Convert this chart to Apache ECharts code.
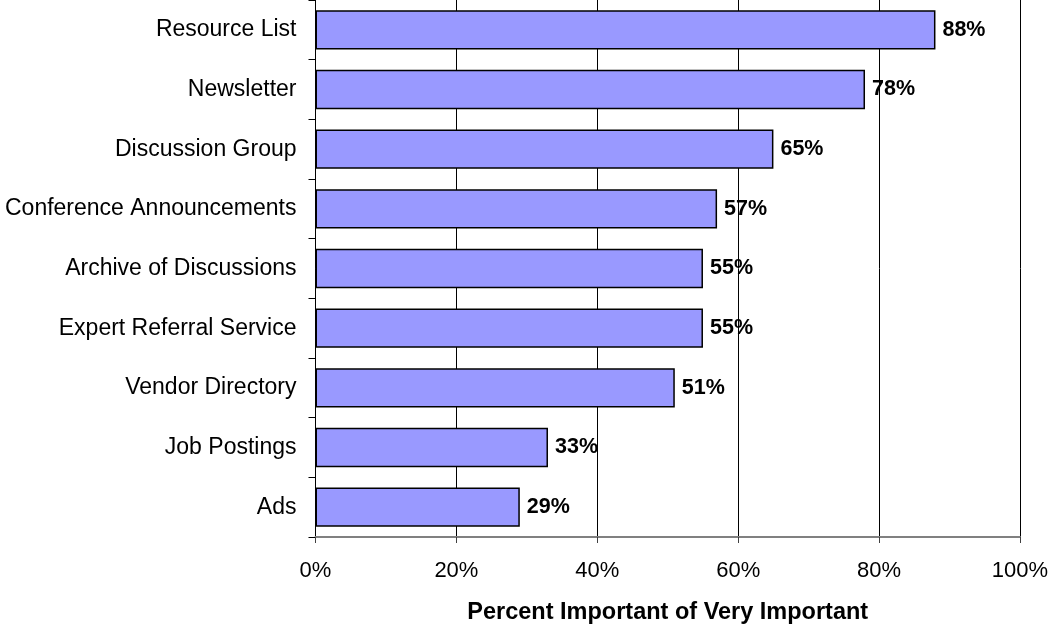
<!DOCTYPE html>
<html>
<head>
<meta charset="utf-8">
<script src="https://cdn.jsdelivr.net/npm/echarts@6/dist/echarts.min.js"></script>
<style>
  html, body { margin: 0; padding: 0; background: #fff; }
  #chart { width: 1051px; height: 626px; }
</style>
</head>
<body>
<div id="chart"></div>
<script>
// Survey features, listed top to bottom
const categories = [
  'Resource List',
  'Newsletter',
  'Discussion Group',
  'Conference Announcements',
  'Archive of Discussions',
  'Expert Referral Service',
  'Vendor Directory',
  'Job Postings',
  'Ads'
];
// Share of respondents rating each feature important or very important (%)
const importance = [88, 78, 65, 57, 55, 55, 51, 33, 29];
const xTicks = { min: 0, max: 100, step: 20 };
const axisTitle = 'Percent Important of Very Important';

const FONT = '"Liberation Sans", Arial, sans-serif';

const chart = echarts.init(document.getElementById('chart'), null, { renderer: 'canvas' });
chart.setOption({
  animation: false,
  backgroundColor: '#ffffff',
  grid: {
    left: 315.5, right: 31, top: 0, bottom: 89,
    containLabel: false,
    outerBoundsMode: 'none'
  },
  xAxis: {
    type: 'value',
    min: xTicks.min,
    max: xTicks.max,
    interval: xTicks.step,
    name: axisTitle,
    nameLocation: 'middle',
    nameGap: 64,
    nameTextStyle: { fontFamily: FONT, fontSize: 23.5, fontWeight: 'bold', color: '#000' },
    axisLine: { show: true, lineStyle: { color: '#808080', width: 2 } },
    axisTick: { show: true, length: 6, lineStyle: { color: '#404040', width: 1 } },
    axisLabel: {
      margin: 23,
      fontFamily: FONT,
      fontSize: 22,
      color: '#000',
      formatter: '{value}%'
    },
    splitLine: { show: true, lineStyle: { color: '#000', width: 1 } }
  },
  yAxis: {
    type: 'category',
    data: categories,
    inverse: true,
    axisLine: { show: true, lineStyle: { color: '#000', width: 1 } },
    axisTick: { show: true, length: 7, lineStyle: { color: '#000', width: 1 } },
    axisLabel: { margin: 19, fontFamily: FONT, fontSize: 23, color: '#000', padding: [3, 0, 0, 0] },
    splitLine: { show: false }
  },
  series: [{
    type: 'bar',
    data: importance,
    barCategoryGap: '34%',
    itemStyle: { color: '#9999ff', borderColor: '#000', borderWidth: 1.5 },
    label: {
      show: true,
      position: 'right',
      distance: 7,
      fontFamily: FONT,
      fontSize: 21.5,
      fontWeight: 'bold',
      color: '#000',
      padding: [3, 0, 0, 0],
      formatter: p => p.value + '%'
    }
  }]
});
</script>
</body>
</html>
